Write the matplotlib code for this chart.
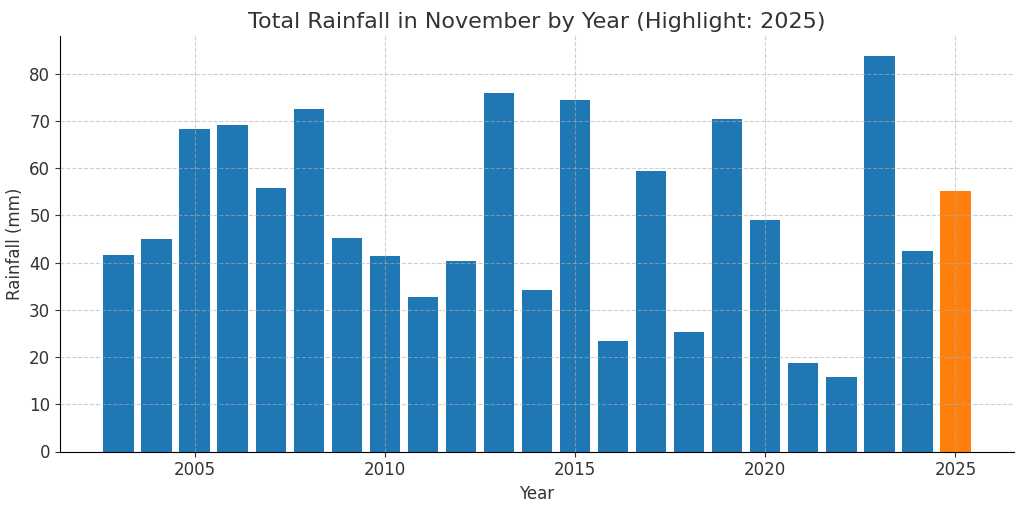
import matplotlib.pyplot as plt

plt.rcParams.update({'font.size': 12})

years = list(range(2003, 2026))
rainfall = [41.6, 45.0, 68.2, 69.2, 55.8, 72.6, 45.2, 41.3, 32.7, 40.3,
            75.9, 34.3, 74.5, 23.5, 59.5, 25.4, 70.4, 49.0, 18.8, 15.7,
            83.8, 42.5, 55.1]
highlight_year = 2025

colors = ['#ff7f0e' if y == highlight_year else '#1f77b4' for y in years]

fig = plt.figure(figsize=(10.24, 5.07), dpi=100)
ax = fig.add_axes([60 / 1024, 55.5 / 507, 954 / 1024, 415.5 / 507])
ax.bar(years, rainfall, color=colors)

# grid sits on top of the bars, like the reference
ax.grid(True, linestyle='--', alpha=0.6)
ax.spines['right'].set_visible(False)
ax.spines['top'].set_visible(False)

ax.set_title(f'Total Rainfall in November by Year (Highlight: {highlight_year})',
             fontsize=16, color='#333333')
ax.set_xlabel('Year', color='#333333')
ax.set_ylabel('Rainfall (mm)', color='#333333')
ax.tick_params(colors='#333333')

plt.savefig('out.png', dpi=100)
plt.close()
